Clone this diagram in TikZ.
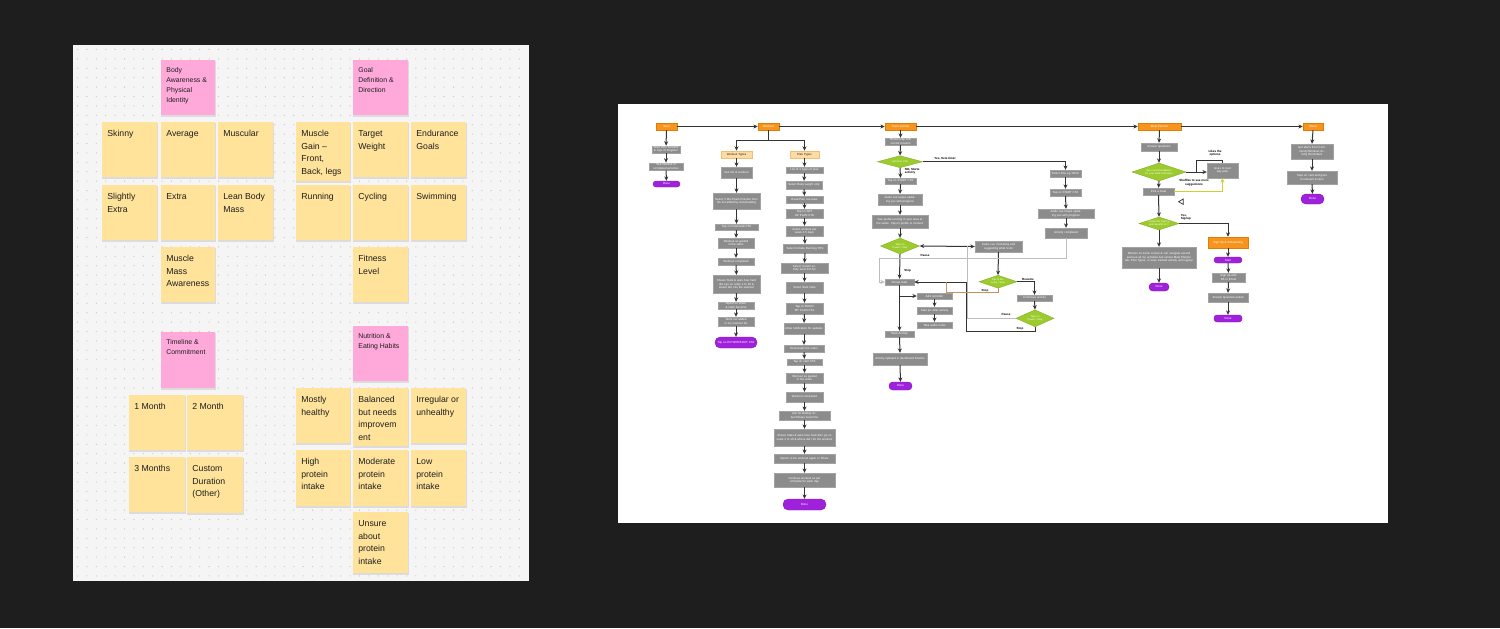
\documentclass[tikz,border=0pt]{standalone}
\usepackage{fontspec}
\setmainfont{Liberation Sans}
\usetikzlibrary{arrows.meta,shapes.geometric}
\definecolor{bgdark}{HTML}{1E1E1E}
\definecolor{panel}{HTML}{F5F5F5}
\definecolor{dotc}{HTML}{CACACA}
\definecolor{stickyY}{HTML}{FFE39B}
\definecolor{stickyP}{HTML}{FFA9DB}
\definecolor{inkc}{HTML}{1E1E1E}
\definecolor{shadowc}{HTML}{DCDCDC}
\definecolor{greyb}{HTML}{8C8C8C}
\definecolor{greybd}{HTML}{A3A3A3}
\definecolor{orangeb}{HTML}{F7941D}
\definecolor{orangebd}{HTML}{E07D05}
\definecolor{lorange}{HTML}{FDDBA6}
\definecolor{lorangebd}{HTML}{F2BF72}
\definecolor{purpleb}{HTML}{A021DC}
\definecolor{greend}{HTML}{9CCB2E}
\definecolor{linec}{HTML}{333333}
\definecolor{lgline}{HTML}{BDBDBD}
\definecolor{brownl}{HTML}{C9925C}
\definecolor{yell}{HTML}{CFCF2F}
\newcommand\mkbox[7]{\node[#1, minimum width={(#5-#3)*0.5pt}, minimum height={(#6-#4)*0.5pt}, text width={(#5-#3)*0.5pt-1.2pt}] (#2) at ({(#3+#5)/2},{(#4+#6)/2}) {#7};}
\newcommand\mkdia[6]{\node[gdia, minimum width={#4*0.5pt}, minimum height={#5*0.5pt}] (#1) at (#2,#3) {};
  \node[fc, text=white, text width={#4*0.3pt}, font=\fontsize{1.25}{1.5}\selectfont] (#1t) at (#1) {#6};}
\newcommand\sticky[8]{\fill[shadowc] ({#4+0.4},{#5+1}) rectangle ({#6+0.7},{#7+1.7});
  \node[fill=#2, minimum width={(#6-#4)*0.5pt}, minimum height={(#7-#5)*0.5pt}, inner sep=0pt, anchor=north west] (#1) at (#4,#5) {};
  \node[#3, anchor=north west] (#1t) at ({#4+5},{#5+5.2}) {\strut #8};}
\begin{document}
\begin{tikzpicture}[x=0.5pt,y=-0.5pt,
  fc/.style={font=\fontsize{1.45}{1.75}\selectfont, align=center, inner sep=0.3pt},
  gbox/.style={fc, fill=greyb, draw=greybd, line width=0.2pt, text=white},
  obox/.style={fc, fill=orangeb, draw=orangebd, line width=0.25pt, text=white},
  lobox/.style={fc, fill=lorange, draw=lorangebd, line width=0.3pt, text=inkc},
  pill/.style={fc, fill=purpleb, draw=purpleb!80!black, line width=0.2pt, text=white, rounded corners=1.5pt},
  gdia/.style={shape=diamond, fill=greend, draw=greend!85!black, line width=0.2pt, inner sep=0pt},
  conn/.style={draw=linec, line width=0.5pt, -{Stealth[length=2.2pt,width=2pt]}},
  plain/.style={draw=linec, line width=0.5pt},
  mainconn/.style={conn, line width=0.8pt},
  lab/.style={font=\fontsize{1.5}{1.8}\selectfont\bfseries, text=black, align=center, inner sep=0pt},
  ytext/.style={font=\fontsize{4.35}{6.35}\selectfont, text=inkc, align=left, inner sep=0pt},
  ptext/.style={font=\fontsize{3.45}{5}\selectfont, text=inkc, align=left, inner sep=0pt}]
\useasboundingbox (0,0) rectangle (1500,628);
\fill[bgdark] (0,0) rectangle (1500,628);
% ---------------- left board ----------------
\fill[panel] (73,45) rectangle (529,581);
\foreach \i in {0,...,47}{\foreach \j in {0,...,56}{\fill[dotc] ({77.5+\i*9.4},{49.5+\j*9.4}) circle (0.33pt);}}
\sticky{bodyp}{stickyP}{ptext}{161}{60}{215}{115}{Body\\Awareness \&\\Physical\\Identity}
\sticky{goalp}{stickyP}{ptext}{353}{60}{408}{115}{Goal\\Definition \&\\Direction}
\sticky{skinny}{stickyY}{ytext}{102}{122}{157}{177}{Skinny}
\sticky{average}{stickyY}{ytext}{161}{122}{215}{177}{Average}
\sticky{muscular}{stickyY}{ytext}{218}{122}{273}{177}{Muscular}
\sticky{gain}{stickyY}{ytext}{296}{122}{350}{181}{Muscle\\Gain –\\Front,\\Back, legs}
\sticky{target}{stickyY}{ytext}{353}{122}{408}{177}{Target\\Weight}
\sticky{endur}{stickyY}{ytext}{411}{122}{466}{177}{Endurance\\Goals}
\sticky{slight}{stickyY}{ytext}{102}{185}{157}{240}{Slightly\\Extra}
\sticky{extra}{stickyY}{ytext}{161}{185}{215}{240}{Extra}
\sticky{lean}{stickyY}{ytext}{218}{185}{273}{240}{Lean Body\\Mass}
\sticky{running}{stickyY}{ytext}{296}{185}{350}{240}{Running}
\sticky{cycling}{stickyY}{ytext}{353}{185}{408}{240}{Cycling}
\sticky{swim}{stickyY}{ytext}{411}{185}{466}{240}{Swimming}
\sticky{massaw}{stickyY}{ytext}{161}{247}{215}{302}{Muscle\\Mass\\Awareness}
\sticky{fitness}{stickyY}{ytext}{353}{247}{408}{302}{Fitness\\Level}
\sticky{timep}{stickyP}{ptext}{161}{332}{215}{388}{Timeline \&\\Commitment}
\sticky{nutp}{stickyP}{ptext}{353}{326}{408}{381}{Nutrition \&\\Eating Habits}
\sticky{monA}{stickyY}{ytext}{129}{395}{185}{450}{1 Month}
\sticky{monB}{stickyY}{ytext}{187}{395}{243}{450}{2 Month}
\sticky{monC}{stickyY}{ytext}{129}{457}{185}{512}{3 Months}
\sticky{custom}{stickyY}{ytext}{187}{457}{243}{513}{Custom\\Duration\\(Other)}
\sticky{healthy}{stickyY}{ytext}{296}{388}{350}{443}{Mostly\\healthy}
\sticky{balanced}{stickyY}{ytext}{353}{388}{408}{446}{Balanced\\but needs\\improvem\\ent}
\sticky{irreg}{stickyY}{ytext}{411}{388}{466}{443}{Irregular or\\unhealthy}
\sticky{highp}{stickyY}{ytext}{296}{450}{350}{506}{High\\protein\\intake}
\sticky{modp}{stickyY}{ytext}{353}{450}{408}{506}{Moderate\\protein\\intake}
\sticky{lowp}{stickyY}{ytext}{411}{450}{466}{506}{Low\\protein\\intake}
\sticky{unsure}{stickyY}{ytext}{353}{512}{408}{573}{Unsure\\about\\protein\\intake}
% ---------------- right flowchart ----------------
\fill[white] (618,104) rectangle (1388,523);
% top row
\mkbox{obox}{ostart}{656}{123}{677}{130}{Start}
\mkbox{obox}{owork}{758}{123}{779}{130}{Workout}
\mkbox{obox}{otrack}{885}{123}{916}{130}{Track Activity}
\mkbox{obox}{omeal}{1138}{123}{1181}{130}{Meal Planner}
\mkbox{obox}{oshare}{1303}{123}{1323}{130}{Share}
% start column
\mkbox{gbox}{s1}{652}{146}{680}{153}{Sees Intro Screens \& logs in/ Register}
\mkbox{gbox}{s2}{649}{163}{683}{170}{See timeline of completed activities}
\mkbox{pill}{s3}{653}{181}{680}{187}{Done}
% workout
\mkbox{lobox}{wt}{721}{151}{752}{158}{Workout Types}
\mkbox{lobox}{pt}{790}{151}{819}{158}{Plan Types}
\mkbox{gbox}{w1}{721}{167}{752}{178}{See list of workout}
\mkbox{gbox}{w2}{713}{193}{760}{209}{Select 5 Min Plank Finisher from the list added by downloading}
\mkbox{gbox}{w3}{715}{224}{758}{230}{Tap on Download CTA}
\mkbox{gbox}{w4}{718}{238}{754}{248}{Workout as guided in the video}
\mkbox{gbox}{w5}{718}{258}{754}{265}{Workout completed}
\mkbox{gbox}{w6}{713}{275}{760}{293}{Shows Stats \& asks how hard did I go on scale 1 to 10 \& where did I do the workout}
\mkbox{gbox}{w7}{718}{302}{754}{309}{Option to share \& mark Favorite}
\mkbox{gbox}{w8}{718}{317}{754}{326}{Work out added in my workout list}
\mkbox{pill, rounded corners=2.6pt}{w9}{715}{337}{757}{348}{Tap on DO WORKOUT CTA}
% plan
\mkbox{gbox}{p1}{786}{167}{823}{173}{List of 4 types of plan}
\mkbox{gbox}{p2}{786}{181}{822}{189}{Select Body weight only}
\mkbox{gbox}{p3}{786}{196}{823}{203}{Read Plan overview}
\mkbox{gbox}{p4}{786}{209}{823}{218}{Tap on SET UP PLAN CTA}
\mkbox{gbox}{p5}{786}{226}{823}{236}{Select workout per week 4-5 days}
\mkbox{gbox}{p6}{783}{244}{827}{253}{Select Include Running YES}
\mkbox{gbox}{p7}{781}{263}{828}{273}{Select current activity level 0-8 hrs}
\mkbox{gbox}{p8}{786}{282}{823}{293}{Select Start Date}
\mkbox{gbox}{p9}{786}{303}{823}{314}{Tap on BUILD MY PLAN CTA}
\mkbox{gbox}{p10}{784}{323}{824}{334}{Allow notification for updates}
\mkbox{gbox}{p11}{784}{345}{824}{352}{Downloads the video}
\mkbox{gbox}{p12}{787}{359}{822}{365}{Tap on start CTA}
\mkbox{gbox}{p13}{786}{373}{823}{383}{Workout as guided in the video}
\mkbox{gbox}{p14}{786}{392}{823}{402}{Workout completed}
\mkbox{gbox}{p15}{779}{411}{830}{420}{Ask for Rating/ Actual fitness level time}
\mkbox{gbox}{p16}{774}{429}{835}{446}{Shows Stats \& asks how hard did I go on scale 1 to 10 \& where did I do the workout}
\mkbox{gbox}{p17}{774}{454}{835}{463}{Option to Do workout again or Share}
\mkbox{gbox}{p18}{774}{473}{835}{487}{Continue workout as per schedule for each day}
\mkbox{pill, rounded corners=2.6pt}{p19}{783}{499}{826}{510}{Done}
% track activity
\mkbox{gbox}{t1}{885}{138}{916}{145}{Shows map with current location}
\mkdia{td1}{900}{161.7}{45}{12}{Set timer CTA}
\mkbox{gbox}{t2}{885}{178}{916}{184}{Tap on START CTA}
\mkbox{gbox}{t3}{878}{194}{922}{205}{Audio cue keeps updating you with progress}
\mkbox{gbox}{t4}{872}{215}{928}{228}{See profile running in your area at the same. Tap on profile to connect}
\mkdia{td2}{900}{246}{39}{16}{Taps on Pause / Stop}
\mkbox{gbox}{t5}{885}{279}{914}{285}{Shows stats}
\mkbox{gbox}{t6}{917}{293}{952}{299}{Add reminder}
\mkbox{gbox}{t7}{917}{307}{952}{314}{Take pic after activity}
\mkbox{gbox}{t8}{917}{322}{952}{328}{Take audio notes}
\mkbox{gbox}{t9}{885}{331}{914}{337}{Save Activity}
\mkbox{gbox}{t10}{873}{353}{927}{365}{Activity updated in dashboard timeline}
\mkbox{pill, rounded corners=1.9pt}{t11}{889}{382}{912}{390}{Done}
\mkbox{gbox}{r1}{1050}{170}{1081}{177}{Select time eg 15min}
\mkbox{gbox}{r2}{1050}{189}{1081}{196}{Tap on START CTA}
\mkbox{gbox}{r3}{1038}{209}{1094}{218}{Audio cue keeps updating you with progress}
\mkbox{gbox}{r4}{1045}{228}{1087}{238}{Activity completed}
\mkbox{gbox}{a1}{975}{241}{1022}{252}{Audio cue motivating and suggesting what to do}
\mkdia{td3}{998}{281.7}{38}{13}{Tap to Resume / Stop}
\mkbox{gbox}{a2}{1017}{295}{1052}{301}{Continues activity}
\mkdia{td4}{1035}{318.3}{38}{17}{Taps on Pause / Stop}
% meal planner
\mkbox{gbox}{m1}{1141}{143}{1177}{151}{Answer questions}
\mkdia{md1}{1159}{172}{54}{18}{See recommendations for your meal \& Recipes}
\mkbox{gbox}{m2}{1207}{163}{1238}{178}{Goes to next day plan}
\mkbox{gbox}{m3}{1143}{188}{1174}{195}{Pick a meal}
\mkdia{md2}{1159}{223.5}{40}{13}{Prompt for sign up with benefits of it}
\mkbox{obox}{m4}{1208}{237}{1248}{248}{Sign Up \& Onboarding}
\mkbox{pill}{m5}{1214}{257}{1242}{263}{Start}
\mkbox{gbox}{m6}{1212}{273}{1245}{282}{Sign up with FB or Email}
\mkbox{gbox}{m7}{1208}{293}{1248}{302}{Answer Question asked}
\mkbox{pill}{m8}{1214}{315}{1242}{322}{Done}
\mkbox{gbox}{m9}{1122}{247}{1196}{268}{Remain on same screen \& can navigate around and use all my activities but cannot Meal Planner tab, Plan Types, or save tracked activity until signup}
\mkbox{pill, rounded corners=1.9pt}{m10}{1149}{283}{1169}{291}{Done}
% share
\mkbox{gbox}{sh1}{1291}{144}{1333}{159}{Get alerts from Community/Workout Activity Reminders}
\mkbox{gbox}{sh2}{1287}{171}{1337}{184}{Taps on card and goes to relevant screen}
\mkbox{pill, rounded corners=2.4pt}{sh3}{1301}{194}{1324}{204}{Done}
% ---------------- connectors ----------------
\draw[mainconn] (ostart.east) -- (owork.west);
\draw[mainconn] (owork.east) -- (otrack.west);
\draw[mainconn] (otrack.east) -- (omeal.west);
\draw[mainconn] (omeal.east) -- (oshare.west);
\draw[conn] (ostart) -- (s1);
\draw[conn] (s1) -- (s2);
\draw[conn] (s2) -- (s3);
\coordinate (wj) at (768.5,140);
\draw[plain] (owork.south) -- (wj);
\draw[conn] (wj) -| (wt.north);
\draw[conn] (wj) -| (pt.north);
\foreach \a/\b in {wt/w1,w1/w2,w2/w3,w3/w4,w4/w5,w5/w6,w6/w7,w7/w8,w8/w9}{\draw[conn] (\a.south) -- (\b.north);}
\foreach \a/\b in {pt/p1,p1/p2,p2/p3,p3/p4,p4/p5,p5/p6,p6/p7,p7/p8,p8/p9,p9/p10,p10/p11,p11/p12,p12/p13,p13/p14,p14/p15,p15/p16,p16/p17,p17/p18,p18/p19}{\draw[conn] (\a.south) -- (\b.north);}
\foreach \a/\b in {otrack/t1,t1/td1,td1/t2,t2/t3,t3/t4,t4/td2,td2/t5,t5/t9,t9/t10,t10/t11,t6/t7,t7/t8,r1/r2,r2/r3,r3/r4,a2/td4,a1/td3}{\draw[conn] (\a.south) -- (\b.north);}
\draw[conn] (td1.east) -| (r1.north);
\node[lab] (lyes) at (945,158.3) {Yes, Sets timer};
\node[lab, anchor=west, align=left] (lno) at (904.5,171.3) {NO, Starts\\activity};
\draw[draw=linec, line width=0.5pt, {Stealth[length=2.2pt,width=2pt]}-{Stealth[length=2.2pt,width=2pt]}] (td2.east) -- (a1.west);
\draw[lgline, line width=0.5pt, -{Stealth[length=2.2pt,width=2pt]}] (r4.south) |- (879.3,258.3) |- (t5.west);
\node[lab] (lpause1) at (925,255.5) {Pause};
\node[lab, anchor=west] (lstop1) at (904,270.5) {Stop};
\draw[lgline, line width=0.5pt] (td4.west) -| (967.3,246);
\node[lab] (lpause2) at (1006,314.5) {Pause};
\draw[conn] (td4.south) |- (966,331.7) |- (t5.east);
\node[lab] (lstop2) at (1020,329) {Stop};
\draw[brownl, line width=0.5pt] (td3.south) |- (946.7,292.3) -- (946.7,282);
\node[lab] (lstop3) at (985,291.2) {Stop};
\draw[conn] (td3.east) -| (a2.north);
\node[lab] (lres) at (1028,279.2) {Resume};
\coordinate (tb) at (t5.south |- t6.west);
\draw[conn] (tb) -- (t6.west);
% meal connectors
\foreach \a/\b in {omeal/m1,m1/md1,md1/m3,m3/md2,md2/m9,m9/m10,m4/m5,m5/m6,m6/m7,m7/m8,oshare/sh1,sh1/sh2,sh2/sh3}{\draw[conn] (\a.south) -- (\b.north);}
\draw[conn] (md1.east) -- (m2.west |- md1.east);
\draw[plain] (m2.north) |- (1196,160) -- (1196,172);
\node[lab] (llikes) at (1215,153.3) {Likes the\\options};
\node[lab] (lshuf) at (1194,183) {Shuffles to see more\\suggestions};
\draw[yell, line width=0.6pt, -{Stealth[length=2.2pt,width=2pt]}] (m3.east) -| (m2.south);
\draw[linec, line width=0.35pt] (1178.6,201.7) -- (1183.2,199) -- (1183.2,204.4) -- cycle;
\draw[conn] (md2.east) -| (m4.north);
\node[lab, anchor=west, align=left] (lsign) at (1180.5,217.2) {Yes,\\Signup};
\end{tikzpicture}
\end{document}
